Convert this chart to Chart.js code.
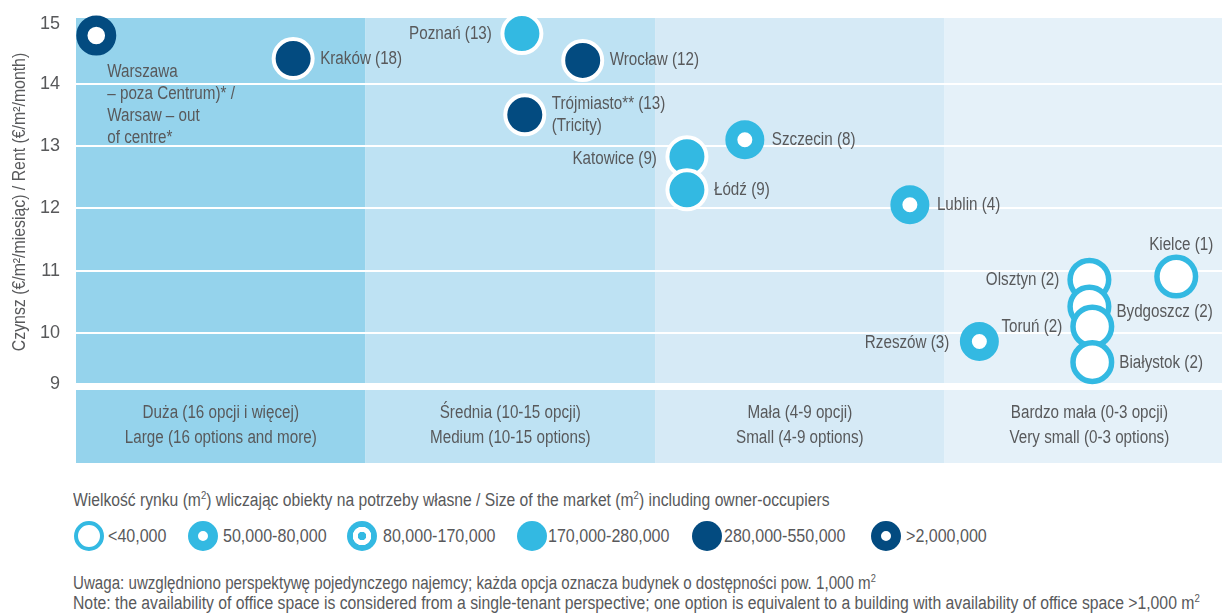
<!DOCTYPE html>
<html>
<head>
<meta charset="utf-8">
<script src="https://cdn.jsdelivr.net/npm/chart.js@4/dist/chart.umd.min.js"></script>
<style>
body { margin: 0; background: #fff; width: 1222px; height: 613px; overflow: hidden; position: relative;
       font-family: 'Liberation Sans', Arial, sans-serif; color: #58595b; }
#wykres { position: absolute; left: 0; top: 0; }
.tekst { position: absolute; left: 73px; font-size: 18px; white-space: nowrap; line-height: 20px;
         transform: scaleX(0.845); transform-origin: 0 0; }
.tekst sup { font-size: 11px; vertical-align: 7px; line-height: 0; }
.znak { position: absolute; top: 521px; width: 30px; height: 30px; border-radius: 50%; box-sizing: border-box; }
.opis { position: absolute; top: 526px; font-size: 19px; line-height: 20px; white-space: nowrap;
        transform: scaleX(0.845); transform-origin: 0 0; }
</style>
</head>
<body>
<canvas id="wykres" width="1222" height="470"></canvas>

<div class="tekst" style="top:490px;transform:scaleX(0.87)">Wielkość rynku (m<sup>2</sup>) wliczając obiekty na potrzeby własne / Size of the market (m<sup>2</sup>) including owner-occupiers</div>

<div class="znak" style="left:74px;border:4.5px solid #33b9e2;background:#fff"></div>
<div class="opis" style="left:108px">&lt;40,000</div>
<div class="znak" style="left:188px;border:10px solid #33b9e2;background:#fff"></div>
<div class="opis" style="left:223px">50,000-80,000</div>
<div class="znak" style="left:347px;background:radial-gradient(circle, #33b9e2 0 4px, #fff 4.5px 9px, #33b9e2 9.5px)"></div>
<div class="opis" style="left:383px">80,000-170,000</div>
<div class="znak" style="left:517px;background:#33b9e2"></div>
<div class="opis" style="left:548px">170,000-280,000</div>
<div class="znak" style="left:692px;background:#034b80"></div>
<div class="opis" style="left:724px">280,000-550,000</div>
<div class="znak" style="left:871px;border:10px solid #034b80;background:#fff"></div>
<div class="opis" style="left:906px">&gt;2,000,000</div>

<div class="tekst" style="top:573px;transform:scaleX(0.84)">Uwaga: uwzględniono perspektywę pojedynczego najemcy; każda opcja oznacza budynek o dostępności pow. 1,000 m<sup>2</sup></div>
<div class="tekst" style="top:593px;transform:scaleX(0.875)">Note: the availability of office space is considered from a single-tenant perspective; one option is equivalent to a building with availability of office space &gt;1,000 m<sup>2</sup></div>

<script>
// dane
var miasta = ['Warszawa', 'Kraków', 'Poznań', 'Wrocław', 'Trójmiasto', 'Katowice', 'Łódź', 'Szczecin',
              'Lublin', 'Rzeszów', 'Olsztyn', 'Bydgoszcz', 'Toruń', 'Białystok', 'Kielce'];
var etykiety = [
    ['Warszawa', '– poza Centrum)* /', 'Warsaw – out', 'of centre*'],
    ['Kraków (18)'], ['Poznań (13)'], ['Wrocław (12)'], ['Trójmiasto** (13)', '(Tricity)'],
    ['Katowice (9)'], ['Łódź (9)'], ['Szczecin (8)'], ['Lublin (4)'], ['Rzeszów (3)'],
    ['Olsztyn (2)'], ['Bydgoszcz (2)'], ['Toruń (2)'], ['Białystok (2)'], ['Kielce (1)']
];
var czynsz = [14.77, 14.40, 14.80, 14.37, 13.50, 12.83, 12.30, 13.10, 12.06, 9.87, 10.86, 10.43, 10.11, 9.54, 10.91];
var opcje  = [0.07, 0.75, 1.54, 1.75, 1.55, 2.11, 2.11, 2.31, 2.88, 3.12, 3.50, 3.50, 3.51, 3.51, 3.80];
var wielkosc = [5, 4, 3, 4, 4, 3, 3, 1, 1, 1, 0, 0, 0, 0, 0];
var klasy = ['<40,000', '50,000-80,000', '80,000-170,000', '170,000-280,000', '280,000-550,000', '>2,000,000'];
var kategorie = [
    ['Duża (16 opcji i więcej)', 'Large (16 options and more)'],
    ['Średnia (10-15 opcji)', 'Medium (10-15 options)'],
    ['Mała (4-9 opcji)', 'Small (4-9 options)'],
    ['Bardzo mała (0-3 opcji)', 'Very small (0-3 options)']
];
var osY = [9, 10, 11, 12, 13, 14, 15];
var tytulY = 'Czynsz (€/m²/miesiąc) / Rent (€/m²/month)';

// wyglad
var rodzina = "'Liberation Sans', Arial, sans-serif";
var zwez = 0.845;
var szary = '#58595b';
var jasny = '#33b9e2';
var granat = '#034b80';
var tla = ['#95d3ec', '#bee2f3', '#d6eaf6', '#e5f1f9'];
// gdzie podpis: p - prawo, l - lewo, g - gora, d - dol
var polozenie = ['d', 'p', 'l', 'p', 'p', 'l', 'p', 'p', 'p', 'l', 'l', 'p', 'l', 'p', 'g'];
var przesuniecie = [0, 0, 0, 0, 0, 2, 0, 0, 0, 2, 0, 5, 0, 1, 0];
var style = [
    { tlo: '#fff', ramka: jasny, r: 19.3, w: 5.5 },
    { tlo: '#fff', ramka: jasny, r: 13.5, w: 12 },
    { tlo: '#fff', ramka: jasny, r: 13.5, w: 12 },
    { tlo: jasny, ramka: '#fff', r: 19.5, w: 4 },
    { tlo: granat, ramka: '#fff', r: 19.5, w: 4 },
    { tlo: '#fff', ramka: granat, r: 14.4, w: 11.2 }
];

Chart.defaults.font.family = rodzina;
Chart.defaults.color = szary;

var zbiory = [];
for (var k = 0; k < klasy.length; k++)
{
    var punkty = [];
    for (var i = 0; i < miasta.length; i++)
    {
        if (wielkosc[i] === k) punkty.push({ x: opcje[i], y: czynsz[i], i: i });
    }
    if (punkty.length === 0) continue;
    zbiory.push({
        label: klasy[k],
        data: punkty,
        backgroundColor: style[k].tlo,
        borderColor: style[k].ramka,
        pointRadius: style[k].r,
        pointHoverRadius: style[k].r,
        pointBorderWidth: style[k].w,
        clip: false
    });
}

// waski napis (Myriad Condensed nie ma, wiec sciskamy)
function napis(ctx, t, x, y, wyrownanie, skala)
{
    ctx.save();
    ctx.translate(x, y);
    ctx.scale(skala || zwez, 1);
    ctx.textAlign = wyrownanie;
    ctx.fillText(t, 0, 0);
    ctx.restore();
}

var tlo = {
    id: 'tlo',
    beforeDraw: function(chart)
    {
        var ctx = chart.ctx;
        var a = chart.chartArea;
        var sx = chart.scales.x;
        ctx.save();
        for (var c = 0; c < 4; c++)
        {
            var x1 = Math.max(sx.getPixelForValue(c), a.left);
            var x2 = Math.min(sx.getPixelForValue(c + 1), chart.width);
            ctx.fillStyle = tla[c];
            ctx.fillRect(x1, a.top, x2 - x1, a.bottom - a.top);
            ctx.fillRect(x1, a.bottom + 6, x2 - x1, 73);
        }
        ctx.restore();
    },
    afterDraw: function(chart)
    {
        var ctx = chart.ctx;
        var a = chart.chartArea;
        var sx = chart.scales.x;
        ctx.save();
        ctx.fillStyle = szary;
        ctx.textBaseline = 'middle';
        ctx.font = '18px ' + rodzina;
        for (var c = 0; c < kategorie.length; c++)
        {
            var xs = sx.getPixelForValue(c + 0.5);
            napis(ctx, kategorie[c][0], xs, a.bottom + 29, 'center');
            napis(ctx, kategorie[c][1], xs, a.bottom + 54, 'center');
        }
        // tytul osi Y
        ctx.font = '18px ' + rodzina;
        ctx.translate(20, (a.top + a.bottom) / 2 + 1);
        ctx.rotate(-Math.PI / 2);
        napis(ctx, tytulY, 0, 0, 'center', 0.88);
        ctx.restore();
    }
};

var podpisy = {
    id: 'podpisy',
    afterDatasetsDraw: function(chart)
    {
        var ctx = chart.ctx;
        var lh = 21.7;
        ctx.save();
        ctx.font = '18px ' + rodzina;
        ctx.fillStyle = szary;
        ctx.textBaseline = 'middle';
        chart.data.datasets.forEach(function(ds, d)
        {
            chart.getDatasetMeta(d).data.forEach(function(pt, j)
            {
                var i = ds.data[j].i;
                var linie = etykiety[i];
                var x = pt.x;
                var y = pt.y - (linie.length - 1) * lh / 2 + przesuniecie[i];
                var al = 'left';
                if (polozenie[i] === 'p') { x += 27; }
                else if (polozenie[i] === 'l') { al = 'right'; x -= 30; }
                else if (polozenie[i] === 'g') { al = 'center'; x += 5; y = pt.y - 32; }
                else { x += 11; y = pt.y + 37; }
                for (var n = 0; n < linie.length; n++) napis(ctx, linie[n], x, y + n * lh, al);
            });
        });
        ctx.restore();
    }
};

var wykres = new Chart(document.getElementById('wykres'), {
    type: 'scatter',
    data: { datasets: zbiory },
    options: {
        responsive: false,
        animation: false,
        layout: { autoPadding: false, padding: { top: 18, left: 0, right: 0, bottom: 0 } },
        plugins: { legend: { display: false }, tooltip: { enabled: false } },
        scales: {
            x: {
                type: 'linear', min: 0, max: 3.958,
                afterFit: function(s) { s.height = 86; },
                ticks: { display: false },
                grid: { display: false },
                border: { display: false }
            },
            y: {
                min: 9.19, max: 15.05,
                afterFit: function(s) { s.width = 76; s.paddingTop = 0; s.paddingBottom = 0; },
                // 9 przyklejone do dolu, 15 troche nizej jak w oryginale
                afterBuildTicks: function(s) {
                    s.ticks = osY.map(function(v) { return { value: Math.min(Math.max(v, s.min), 14.95) }; });
                },
                ticks: {
                    padding: 16, color: szary, font: { size: 18 },
                    callback: function(v) { return Math.round(v); }
                },
                grid: {
                    drawTicks: false, lineWidth: 2,
                    color: function(c) { return c.tick && c.tick.value > 14.9 ? 'rgba(0,0,0,0)' : '#fff'; }
                },
                border: { display: false }
            }
        }
    },
    plugins: [tlo, podpisy]
});
</script>
</body>
</html>
